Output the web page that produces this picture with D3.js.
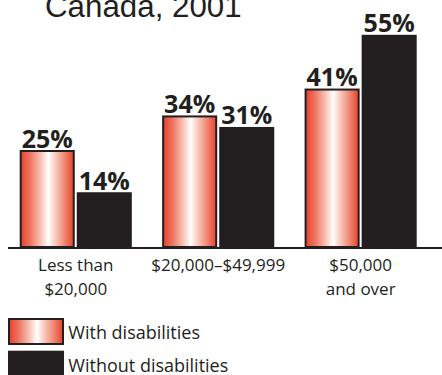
<!DOCTYPE html>
<html>
<head>
<meta charset="utf-8">
<script src="https://cdn.jsdelivr.net/npm/d3@7"></script>
<style>
  html, body { margin: 0; padding: 0; background: #fff; }
  svg { display: block; }
</style>
</head>
<body>
<svg id="chart" width="442" height="375"></svg>
<script>
// Income groups (two-line labels) and the share of each population in them
const categories = ["lt20", "20to50", "50plus"];
const categoryLabels = [["Less than", "$20,000"], ["$20,000\u2013$49,999"], ["$50,000", "and over"]];
const seriesNames = ["With disabilities", "Without disabilities"];
const withDisabilities = [25, 34, 41];
const withoutDisabilities = [14, 31, 55];
const titleText = "Canada, 2001";

const ink = "#231f20";
const svg = d3.select("#chart");

// Horizontal red-white-red sheen used for the "with disabilities" bars
const defs = svg.append("defs");
const grad = defs.append("linearGradient").attr("id", "sheen")
  .attr("x1", "0%").attr("x2", "100%").attr("y1", "0%").attr("y2", "0%");
[[0, "#e8412b"], [0.18, "#ee7561"], [0.38, "#f8c4b6"], [0.52, "#ffffff"], [0.62, "#fbd6cc"], [0.82, "#f08a76"], [1, "#e8412b"]]
  .forEach(([o, c]) => grad.append("stop").attr("offset", o).attr("stop-color", c));

const baseY = 247;
const y = d3.scaleLinear().domain([0, 60]).range([baseY, baseY - 3.84 * 60]);
const x = d3.scaleBand().domain(categories).range([20.7, 415.7]).paddingInner(0.227).paddingOuter(0);
const xs = d3.scaleBand().domain(seriesNames).range([0, x.bandwidth()]).paddingInner(0.07).paddingOuter(0);
const fills = { "With disabilities": "url(#sheen)", "Without disabilities": ink };

// Title (continuation line of a heading)
svg.append("text").attr("x", 45).attr("y", 17.3)
  .attr("font-family", "Liberation Sans, Arial, sans-serif").attr("font-size", 31.3)
  .attr("fill", ink).text(titleText);

const rows = categories.map((c, i) => ({
  cat: c,
  vals: [
    { s: seriesNames[0], v: withDisabilities[i] },
    { s: seriesNames[1], v: withoutDisabilities[i] }
  ]
}));

const groups = svg.selectAll("g.grp").data(rows).join("g")
  .attr("class", "grp").attr("transform", d => `translate(${x(d.cat)},0)`);

groups.selectAll("rect").data(d => d.vals).join("rect")
  .attr("x", d => xs(d.s)).attr("width", xs.bandwidth())
  .attr("y", d => y(d.v)).attr("height", d => y(0) - y(d.v))
  .attr("fill", d => fills[d.s]).attr("stroke", ink).attr("stroke-width", 2);

groups.selectAll("text.val").data(d => d.vals).join("text")
  .attr("class", "val")
  .attr("x", d => xs(d.s) + xs.bandwidth() / 2).attr("y", d => y(d.v) - 3.5)
  .attr("text-anchor", "middle")
  .attr("font-family", "Open Sans, sans-serif").attr("font-weight", 700).attr("font-size", 25)
  .attr("fill", ink).text(d => d.v + "%");

// Baseline
svg.append("line").attr("x1", 8).attr("x2", 442).attr("y1", baseY + 1).attr("y2", baseY + 1)
  .attr("stroke", ink).attr("stroke-width", 2);

// Category labels under each group
const catText = svg.selectAll("text.cat").data(categories).join("text")
  .attr("class", "cat")
  .attr("text-anchor", "middle")
  .attr("font-family", "Open Sans, sans-serif").attr("font-size", 17)
  .attr("fill", ink);
catText.selectAll("tspan").data((d, i) => categoryLabels[i].map(t => ({ t, c: d }))).join("tspan")
  .attr("x", d => x(d.c) + x.bandwidth() / 2)
  .attr("y", (d, j) => 271 + j * 24)
  .text(d => d.t);

// Legend
const legend = svg.append("g");
const items = legend.selectAll("g").data(seriesNames).join("g")
  .attr("transform", (d, i) => `translate(0,${319 + i * 32.7})`);
items.append("rect").attr("x", 9).attr("y", 0).attr("width", 54).attr("height", 25)
  .attr("fill", d => fills[d]).attr("stroke", ink).attr("stroke-width", 2);
items.append("text").attr("x", 68.3).attr("y", 20.3)
  .attr("font-family", "Open Sans, sans-serif").attr("font-size", 18)
  .attr("fill", ink).text(d => d);
</script>
</body>
</html>
